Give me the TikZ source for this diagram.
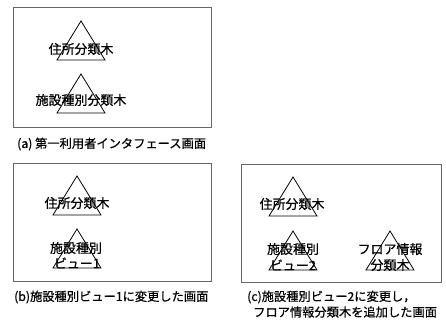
\documentclass[tikz,border=0pt]{standalone}
\usepackage{fontspec}
\setmainfont{Noto Sans CJK JP}[FakeBold=0.6]
\begin{document}
\begin{tikzpicture}[x=1bp,y=-1bp,
  frame/.style={draw=black!60,line width=0.9bp},
  tri/.style={draw=black,line width=0.8bp,line join=miter},
  lbl/.style={inner sep=0pt,font=\fontsize{13}{13}\selectfont},
  captext/.style={inner sep=0pt,anchor=west,font=\fontsize{12.3}{12.3}\selectfont}]
\useasboundingbox (0,0) rectangle (446,321);
% frames
\draw[frame] (13,7) rectangle (211,127);
\draw[frame] (13,163) rectangle (211,281);
\draw[frame] (241,164) rectangle (441,282);
% triangles
\draw[tri] (81,21) -- (57,60) -- (105,60) -- cycle;
\draw[tri] (81,74) -- (57,113) -- (105,113) -- cycle;
\draw[tri] (77,176) -- (53,215) -- (101,215) -- cycle;
\draw[tri] (77,229) -- (53,268) -- (101,268) -- cycle;
\draw[tri] (293,177) -- (269,216) -- (317,216) -- cycle;
\draw[tri] (293,231) -- (269,270) -- (317,270) -- cycle;
\draw[tri] (390,231) -- (366,270) -- (414,270) -- cycle;
% labels
\node[lbl] (a1) at (81,49) {住所分類木};
\node[lbl] (a2) at (81,100) {施設種別分類木};
\node[lbl] (b1) at (77,203) {住所分類木};
\node[lbl] (b2) at (76,248) {施設種別};
\node[lbl] (b3) at (77,263) {ビュー1};
\node[lbl] (c1) at (292,204) {住所分類木};
\node[lbl] (c2) at (293,249) {施設種別};
\node[lbl] (c3) at (293,265) {ビュー2};
\node[lbl] (c4) at (390,249) {フロア情報};
\node[lbl] (c5) at (390,265) {分類木};
% captions
\node[captext] (capa) at (17,144) {(a) 第一利用者インタフェース画面};
\node[captext] (capb) at (14,297) {(b)施設種別ビュー1に変更した画面};
\node[captext] (capc1) at (247,297) {(c)施設種別ビュー2に変更し，};
\node[captext] (capc2) at (253,312) {フロア情報分類木を追加した画面};
\end{tikzpicture}
\end{document}
